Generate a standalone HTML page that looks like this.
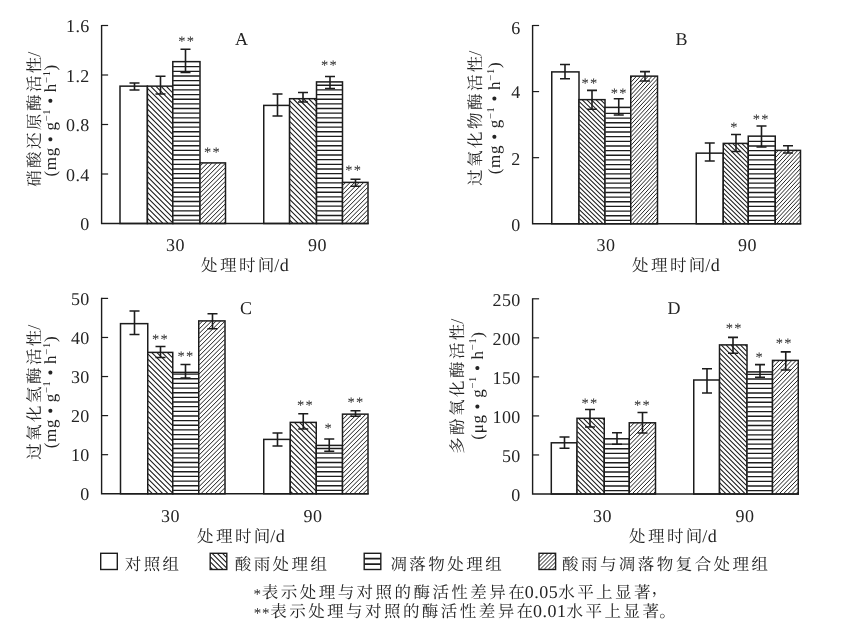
<!DOCTYPE html>
<html lang="zh"><head><meta charset="utf-8"><title>酶活性</title>
<style>html,body{margin:0;padding:0;background:#fff}svg{display:block}text{font-family:'Liberation Serif', 'Noto Serif CJK SC', serif}</style></head><body>
<svg width="860" height="627" viewBox="0 0 860 627" text-rendering="geometricPrecision" font-family="'Liberation Serif', 'Noto Serif CJK SC', serif">
<rect width="860" height="627" fill="#fff"/>
<rect x="120.00" y="86.15" width="27.40" height="137.35" fill="#fff"/>
<rect x="120.00" y="86.15" width="27.40" height="137.35" fill="none" stroke="#1c1c1c" stroke-width="1.5"/>
<rect x="147.40" y="86.15" width="25.40" height="137.35" fill="#fff"/>
<path d="M147.7 218.58L152.32 223.2M147.7 213.38L157.52 223.2M147.7 208.18L162.72 223.2M147.7 202.98L167.92 223.2M147.7 197.78L172.5 222.58M147.7 192.58L172.5 217.38M147.7 187.38L172.5 212.18M147.7 182.18L172.5 206.98M147.7 176.98L172.5 201.78M147.7 171.78L172.5 196.58M147.7 166.58L172.5 191.38M147.7 161.38L172.5 186.18M147.7 156.18L172.5 180.98M147.7 150.98L172.5 175.78M147.7 145.78L172.5 170.58M147.7 140.58L172.5 165.38M147.7 135.38L172.5 160.18M147.7 130.18L172.5 154.98M147.7 124.98L172.5 149.78M147.7 119.78L172.5 144.58M147.7 114.58L172.5 139.38M147.7 109.38L172.5 134.18M147.7 104.18L172.5 128.98M147.7 98.98L172.5 123.78M147.7 93.78L172.5 118.58M147.7 88.58L172.5 113.38M150.77 86.45L172.5 108.18M155.97 86.45L172.5 102.98M161.17 86.45L172.5 97.78M166.37 86.45L172.5 92.58M171.57 86.45L172.5 87.38" stroke="#1c1c1c" stroke-width="1.1" fill="none"/>
<rect x="147.40" y="86.15" width="25.40" height="137.35" fill="none" stroke="#1c1c1c" stroke-width="1.5"/>
<rect x="172.80" y="61.65" width="27.20" height="161.85" fill="#fff"/>
<path d="M173.10 220.10H199.70M173.10 215.45H199.70M173.10 210.80H199.70M173.10 206.15H199.70M173.10 201.50H199.70M173.10 196.85H199.70M173.10 192.20H199.70M173.10 187.55H199.70M173.10 182.90H199.70M173.10 178.25H199.70M173.10 173.60H199.70M173.10 168.95H199.70M173.10 164.30H199.70M173.10 159.65H199.70M173.10 155.00H199.70M173.10 150.35H199.70M173.10 145.70H199.70M173.10 141.05H199.70M173.10 136.40H199.70M173.10 131.75H199.70M173.10 127.10H199.70M173.10 122.45H199.70M173.10 117.80H199.70M173.10 113.15H199.70M173.10 108.50H199.70M173.10 103.85H199.70M173.10 99.20H199.70M173.10 94.55H199.70M173.10 89.90H199.70M173.10 85.25H199.70M173.10 80.60H199.70M173.10 75.95H199.70M173.10 71.30H199.70M173.10 66.65H199.70" stroke="#1c1c1c" stroke-width="1.35" fill="none"/>
<rect x="172.80" y="61.65" width="27.20" height="161.85" fill="none" stroke="#1c1c1c" stroke-width="1.5"/>
<rect x="200.00" y="162.90" width="25.50" height="60.60" fill="#fff"/>
<path d="M200.3 165.87L202.97 163.2M200.3 170.37L207.47 163.2M200.3 174.87L211.97 163.2M200.3 179.37L216.47 163.2M200.3 183.87L220.97 163.2M200.3 188.37L225.2 163.47M200.3 192.87L225.2 167.97M200.3 197.37L225.2 172.47M200.3 201.87L225.2 176.97M200.3 206.37L225.2 181.47M200.3 210.87L225.2 185.97M200.3 215.37L225.2 190.47M200.3 219.87L225.2 194.97M201.47 223.2L225.2 199.47M205.97 223.2L225.2 203.97M210.47 223.2L225.2 208.47M214.97 223.2L225.2 212.97M219.47 223.2L225.2 217.47M223.97 223.2L225.2 221.97" stroke="#1c1c1c" stroke-width="1.0" fill="none"/>
<rect x="200.00" y="162.90" width="25.50" height="60.60" fill="none" stroke="#1c1c1c" stroke-width="1.5"/>
<rect x="263.75" y="105.40" width="25.85" height="118.10" fill="#fff"/>
<rect x="263.75" y="105.40" width="25.85" height="118.10" fill="none" stroke="#1c1c1c" stroke-width="1.5"/>
<rect x="289.60" y="98.70" width="26.90" height="124.80" fill="#fff"/>
<path d="M289.9 220.38L292.72 223.2M289.9 215.18L297.92 223.2M289.9 209.98L303.12 223.2M289.9 204.78L308.32 223.2M289.9 199.58L313.52 223.2M289.9 194.38L316.2 220.68M289.9 189.18L316.2 215.48M289.9 183.98L316.2 210.28M289.9 178.78L316.2 205.08M289.9 173.58L316.2 199.88M289.9 168.38L316.2 194.68M289.9 163.18L316.2 189.48M289.9 157.98L316.2 184.28M289.9 152.78L316.2 179.08M289.9 147.58L316.2 173.88M289.9 142.38L316.2 168.68M289.9 137.18L316.2 163.48M289.9 131.98L316.2 158.28M289.9 126.78L316.2 153.08M289.9 121.58L316.2 147.88M289.9 116.38L316.2 142.68M289.9 111.18L316.2 137.48M289.9 105.98L316.2 132.28M289.9 100.78L316.2 127.08M293.32 99.0L316.2 121.88M298.52 99.0L316.2 116.68M303.72 99.0L316.2 111.48M308.92 99.0L316.2 106.28M314.12 99.0L316.2 101.08" stroke="#1c1c1c" stroke-width="1.1" fill="none"/>
<rect x="289.60" y="98.70" width="26.90" height="124.80" fill="none" stroke="#1c1c1c" stroke-width="1.5"/>
<rect x="316.50" y="81.90" width="26.00" height="141.60" fill="#fff"/>
<path d="M316.80 220.10H342.20M316.80 215.45H342.20M316.80 210.80H342.20M316.80 206.15H342.20M316.80 201.50H342.20M316.80 196.85H342.20M316.80 192.20H342.20M316.80 187.55H342.20M316.80 182.90H342.20M316.80 178.25H342.20M316.80 173.60H342.20M316.80 168.95H342.20M316.80 164.30H342.20M316.80 159.65H342.20M316.80 155.00H342.20M316.80 150.35H342.20M316.80 145.70H342.20M316.80 141.05H342.20M316.80 136.40H342.20M316.80 131.75H342.20M316.80 127.10H342.20M316.80 122.45H342.20M316.80 117.80H342.20M316.80 113.15H342.20M316.80 108.50H342.20M316.80 103.85H342.20M316.80 99.20H342.20M316.80 94.55H342.20M316.80 89.90H342.20M316.80 85.25H342.20" stroke="#1c1c1c" stroke-width="1.35" fill="none"/>
<rect x="316.50" y="81.90" width="26.00" height="141.60" fill="none" stroke="#1c1c1c" stroke-width="1.5"/>
<rect x="342.50" y="182.40" width="25.50" height="41.10" fill="#fff"/>
<path d="M342.8 185.37L345.47 182.7M342.8 189.87L349.97 182.7M342.8 194.37L354.47 182.7M342.8 198.87L358.97 182.7M342.8 203.37L363.47 182.7M342.8 207.87L367.7 182.97M342.8 212.37L367.7 187.47M342.8 216.87L367.7 191.97M342.8 221.37L367.7 196.47M345.47 223.2L367.7 200.97M349.97 223.2L367.7 205.47M354.47 223.2L367.7 209.97M358.97 223.2L367.7 214.47M363.47 223.2L367.7 218.97" stroke="#1c1c1c" stroke-width="1.0" fill="none"/>
<rect x="342.50" y="182.40" width="25.50" height="41.10" fill="none" stroke="#1c1c1c" stroke-width="1.5"/>
<path d="M101.6 24.9V223.5H368.7" stroke="#1c1c1c" stroke-width="1.4" fill="none"/>
<path d="M101.6 25.50h6.5" stroke="#1c1c1c" stroke-width="1.2"/>
<text x="89.80" y="32.00" text-anchor="end" font-size="18" letter-spacing="0.45" fill="#242424" >1.6</text>
<path d="M101.6 75.00h6.5" stroke="#1c1c1c" stroke-width="1.2"/>
<text x="89.80" y="81.50" text-anchor="end" font-size="18" letter-spacing="0.45" fill="#242424" >1.2</text>
<path d="M101.6 124.50h6.5" stroke="#1c1c1c" stroke-width="1.2"/>
<text x="89.80" y="131.00" text-anchor="end" font-size="18" letter-spacing="0.45" fill="#242424" >0.8</text>
<path d="M101.6 174.00h6.5" stroke="#1c1c1c" stroke-width="1.2"/>
<text x="89.80" y="180.50" text-anchor="end" font-size="18" letter-spacing="0.45" fill="#242424" >0.4</text>
<text x="89.80" y="230.00" text-anchor="end" font-size="18" letter-spacing="0.45" fill="#242424" >0</text>
<path d="M134.50 83.00V90.00M129.50 83.00h10M129.50 90.00h10" stroke="#1c1c1c" stroke-width="1.6" fill="none"/>
<path d="M160.50 76.25V94.00M155.50 76.25h10M155.50 94.00h10" stroke="#1c1c1c" stroke-width="1.6" fill="none"/>
<path d="M185.50 49.20V72.40M180.50 49.20h10M180.50 72.40h10" stroke="#1c1c1c" stroke-width="1.6" fill="none"/>
<path d="M277.50 94.00V116.00M272.50 94.00h10M272.50 116.00h10" stroke="#1c1c1c" stroke-width="1.6" fill="none"/>
<path d="M303.00 92.50V102.00M298.00 92.50h10M298.00 102.00h10" stroke="#1c1c1c" stroke-width="1.6" fill="none"/>
<path d="M330.00 76.50V88.50M325.00 76.50h10M325.00 88.50h10" stroke="#1c1c1c" stroke-width="1.6" fill="none"/>
<path d="M355.50 179.25V186.25M350.50 179.25h10M350.50 186.25h10" stroke="#1c1c1c" stroke-width="1.6" fill="none"/>
<text x="186.75" y="46.10" text-anchor="middle" font-size="14.5" letter-spacing="1.2" fill="#242424">**</text>
<text x="212.50" y="157.10" text-anchor="middle" font-size="14.5" letter-spacing="1.2" fill="#242424">**</text>
<text x="329.50" y="69.60" text-anchor="middle" font-size="14.5" letter-spacing="1.2" fill="#242424">**</text>
<text x="353.75" y="175.35" text-anchor="middle" font-size="14.5" letter-spacing="1.2" fill="#242424">**</text>
<text x="235.00" y="45.00" text-anchor="start" font-size="18" letter-spacing="0" fill="#242424" >A</text>
<text x="175.50" y="251.20" text-anchor="middle" font-size="18" letter-spacing="0.5" fill="#242424" >30</text>
<text x="317.50" y="251.20" text-anchor="middle" font-size="18" letter-spacing="0.5" fill="#242424" >90</text>
<text x="201.00" y="270.50" text-anchor="start" fill="#242424" ><tspan font-size="16.5" letter-spacing="2.45">处理时</tspan><tspan font-size="16.5" letter-spacing="0">间</tspan><tspan font-size="18" letter-spacing="0.5">/d</tspan></text>
<text transform="translate(40.30 119.00) rotate(-90)" text-anchor="middle" fill="#242424"><tspan font-size="16.5" letter-spacing="2.45">硝酸还原酶活</tspan><tspan font-size="16.5" letter-spacing="0">性</tspan><tspan font-size="18" letter-spacing="0.5">/</tspan></text>
<text transform="translate(56.30 120.30) rotate(-90)" text-anchor="middle" font-size="17" letter-spacing="0.7" fill="#242424">(mg • g<tspan font-size="10.5" dy="-6.5">−1</tspan><tspan dy="6.5"> • h</tspan><tspan font-size="10.5" dy="-6.5">−1</tspan><tspan dy="6.5">)</tspan></text>
<rect x="551.75" y="71.90" width="27.25" height="151.85" fill="#fff"/>
<rect x="551.75" y="71.90" width="27.25" height="151.85" fill="none" stroke="#1c1c1c" stroke-width="1.5"/>
<rect x="579.00" y="99.65" width="26.00" height="124.10" fill="#fff"/>
<path d="M579.3 223.04L579.72 223.45M579.3 218.54L584.32 223.45M579.3 214.04L588.92 223.45M579.3 209.54L593.52 223.45M579.3 205.04L598.12 223.45M579.3 200.54L602.72 223.45M579.3 196.04L604.7 220.89M579.3 191.54L604.7 216.39M579.3 187.04L604.7 211.89M579.3 182.54L604.7 207.39M579.3 178.04L604.7 202.89M579.3 173.54L604.7 198.39M579.3 169.04L604.7 193.89M579.3 164.54L604.7 189.39M579.3 160.04L604.7 184.89M579.3 155.54L604.7 180.39M579.3 151.04L604.7 175.89M579.3 146.54L604.7 171.39M579.3 142.04L604.7 166.89M579.3 137.54L604.7 162.39M579.3 133.04L604.7 157.89M579.3 128.54L604.7 153.39M579.3 124.04L604.7 148.89M579.3 119.54L604.7 144.39M579.3 115.04L604.7 139.89M579.3 110.54L604.7 135.39M579.3 106.04L604.7 130.89M579.3 101.54L604.7 126.39M582.27 99.95L604.7 121.89M586.87 99.95L604.7 117.39M591.47 99.95L604.7 112.89M596.07 99.95L604.7 108.39M600.67 99.95L604.7 103.89" stroke="#1c1c1c" stroke-width="1.05" fill="none"/>
<rect x="579.00" y="99.65" width="26.00" height="124.10" fill="none" stroke="#1c1c1c" stroke-width="1.5"/>
<rect x="605.00" y="107.40" width="25.75" height="116.35" fill="#fff"/>
<path d="M605.30 220.35H630.45M605.30 215.70H630.45M605.30 211.05H630.45M605.30 206.40H630.45M605.30 201.75H630.45M605.30 197.10H630.45M605.30 192.45H630.45M605.30 187.80H630.45M605.30 183.15H630.45M605.30 178.50H630.45M605.30 173.85H630.45M605.30 169.20H630.45M605.30 164.55H630.45M605.30 159.90H630.45M605.30 155.25H630.45M605.30 150.60H630.45M605.30 145.95H630.45M605.30 141.30H630.45M605.30 136.65H630.45M605.30 132.00H630.45M605.30 127.35H630.45M605.30 122.70H630.45M605.30 118.05H630.45M605.30 113.40H630.45" stroke="#1c1c1c" stroke-width="1.35" fill="none"/>
<rect x="605.00" y="107.40" width="25.75" height="116.35" fill="none" stroke="#1c1c1c" stroke-width="1.5"/>
<rect x="630.75" y="76.15" width="26.75" height="147.60" fill="#fff"/>
<path d="M631.05 77.96L632.45 76.45M631.05 82.16L636.35 76.45M631.05 86.36L640.25 76.45M631.05 90.56L644.15 76.45M631.05 94.76L648.05 76.45M631.05 98.96L651.95 76.45M631.05 103.16L655.85 76.45M631.05 107.36L657.2 79.2M631.05 111.56L657.2 83.4M631.05 115.76L657.2 87.6M631.05 119.96L657.2 91.8M631.05 124.16L657.2 96.0M631.05 128.36L657.2 100.2M631.05 132.56L657.2 104.4M631.05 136.76L657.2 108.6M631.05 140.96L657.2 112.8M631.05 145.16L657.2 117.0M631.05 149.36L657.2 121.2M631.05 153.56L657.2 125.4M631.05 157.76L657.2 129.6M631.05 161.96L657.2 133.8M631.05 166.16L657.2 138.0M631.05 170.36L657.2 142.2M631.05 174.56L657.2 146.4M631.05 178.76L657.2 150.6M631.05 182.96L657.2 154.8M631.05 187.16L657.2 159.0M631.05 191.36L657.2 163.2M631.05 195.56L657.2 167.4M631.05 199.76L657.2 171.6M631.05 203.96L657.2 175.8M631.05 208.16L657.2 180.0M631.05 212.36L657.2 184.2M631.05 216.56L657.2 188.4M631.05 220.76L657.2 192.6M632.45 223.45L657.2 196.8M636.35 223.45L657.2 201.0M640.25 223.45L657.2 205.2M644.15 223.45L657.2 209.4M648.05 223.45L657.2 213.6M651.95 223.45L657.2 217.8M655.85 223.45L657.2 222.0" stroke="#1c1c1c" stroke-width="0.95" fill="none"/>
<rect x="630.75" y="76.15" width="26.75" height="147.60" fill="none" stroke="#1c1c1c" stroke-width="1.5"/>
<rect x="696.25" y="153.15" width="27.00" height="70.60" fill="#fff"/>
<rect x="696.25" y="153.15" width="27.00" height="70.60" fill="none" stroke="#1c1c1c" stroke-width="1.5"/>
<rect x="723.25" y="143.40" width="25.00" height="80.35" fill="#fff"/>
<path d="M723.55 220.16L726.92 223.45M723.55 215.66L731.52 223.45M723.55 211.16L736.12 223.45M723.55 206.66L740.72 223.45M723.55 202.16L745.32 223.45M723.55 197.66L747.95 221.53M723.55 193.16L747.95 217.03M723.55 188.66L747.95 212.53M723.55 184.16L747.95 208.03M723.55 179.66L747.95 203.53M723.55 175.16L747.95 199.03M723.55 170.66L747.95 194.53M723.55 166.16L747.95 190.03M723.55 161.66L747.95 185.53M723.55 157.16L747.95 181.03M723.55 152.66L747.95 176.53M723.55 148.16L747.95 172.03M723.6 143.7L747.95 167.53M728.2 143.7L747.95 163.03M732.8 143.7L747.95 158.53M737.4 143.7L747.95 154.03M742.0 143.7L747.95 149.53M746.6 143.7L747.95 145.03" stroke="#1c1c1c" stroke-width="1.05" fill="none"/>
<rect x="723.25" y="143.40" width="25.00" height="80.35" fill="none" stroke="#1c1c1c" stroke-width="1.5"/>
<rect x="748.25" y="136.15" width="27.00" height="87.60" fill="#fff"/>
<path d="M748.55 220.35H774.95M748.55 215.70H774.95M748.55 211.05H774.95M748.55 206.40H774.95M748.55 201.75H774.95M748.55 197.10H774.95M748.55 192.45H774.95M748.55 187.80H774.95M748.55 183.15H774.95M748.55 178.50H774.95M748.55 173.85H774.95M748.55 169.20H774.95M748.55 164.55H774.95M748.55 159.90H774.95M748.55 155.25H774.95M748.55 150.60H774.95M748.55 145.95H774.95M748.55 141.30H774.95" stroke="#1c1c1c" stroke-width="1.35" fill="none"/>
<rect x="748.25" y="136.15" width="27.00" height="87.60" fill="none" stroke="#1c1c1c" stroke-width="1.5"/>
<rect x="775.25" y="150.40" width="25.25" height="73.35" fill="#fff"/>
<path d="M775.55 153.35L778.01 150.7M775.55 157.55L781.91 150.7M775.55 161.75L785.81 150.7M775.55 165.95L789.71 150.7M775.55 170.15L793.61 150.7M775.55 174.35L797.51 150.7M775.55 178.55L800.2 152.0M775.55 182.75L800.2 156.2M775.55 186.95L800.2 160.4M775.55 191.15L800.2 164.6M775.55 195.35L800.2 168.8M775.55 199.55L800.2 173.0M775.55 203.75L800.2 177.2M775.55 207.95L800.2 181.4M775.55 212.15L800.2 185.6M775.55 216.35L800.2 189.8M775.55 220.55L800.2 194.0M776.75 223.45L800.2 198.2M780.65 223.45L800.2 202.4M784.55 223.45L800.2 206.6M788.45 223.45L800.2 210.8M792.35 223.45L800.2 215.0M796.25 223.45L800.2 219.2M800.15 223.45L800.2 223.4" stroke="#1c1c1c" stroke-width="0.95" fill="none"/>
<rect x="775.25" y="150.40" width="25.25" height="73.35" fill="none" stroke="#1c1c1c" stroke-width="1.5"/>
<path d="M532.6 24.9V223.75H801.2" stroke="#1c1c1c" stroke-width="1.4" fill="none"/>
<path d="M532.6 25.50h6.5" stroke="#1c1c1c" stroke-width="1.2"/>
<text x="520.80" y="34.00" text-anchor="end" font-size="18" letter-spacing="0.45" fill="#242424" >6</text>
<path d="M532.6 91.58h6.5" stroke="#1c1c1c" stroke-width="1.2"/>
<text x="520.80" y="98.48" text-anchor="end" font-size="18" letter-spacing="0.45" fill="#242424" >4</text>
<path d="M532.6 157.67h6.5" stroke="#1c1c1c" stroke-width="1.2"/>
<text x="520.80" y="164.57" text-anchor="end" font-size="18" letter-spacing="0.45" fill="#242424" >2</text>
<text x="520.80" y="230.65" text-anchor="end" font-size="18" letter-spacing="0.45" fill="#242424" >0</text>
<path d="M565.00 64.50V78.75M560.00 64.50h10M560.00 78.75h10" stroke="#1c1c1c" stroke-width="1.6" fill="none"/>
<path d="M592.00 90.40V109.30M587.00 90.40h10M587.00 109.30h10" stroke="#1c1c1c" stroke-width="1.6" fill="none"/>
<path d="M618.75 98.80V115.00M613.75 98.80h10M613.75 115.00h10" stroke="#1c1c1c" stroke-width="1.6" fill="none"/>
<path d="M645.00 71.60V81.00M640.00 71.60h10M640.00 81.00h10" stroke="#1c1c1c" stroke-width="1.6" fill="none"/>
<path d="M709.75 143.00V161.00M704.75 143.00h10M704.75 161.00h10" stroke="#1c1c1c" stroke-width="1.6" fill="none"/>
<path d="M736.00 134.50V151.50M731.00 134.50h10M731.00 151.50h10" stroke="#1c1c1c" stroke-width="1.6" fill="none"/>
<path d="M761.50 126.00V147.00M756.50 126.00h10M756.50 147.00h10" stroke="#1c1c1c" stroke-width="1.6" fill="none"/>
<path d="M788.00 145.75V153.00M783.00 145.75h10M783.00 153.00h10" stroke="#1c1c1c" stroke-width="1.6" fill="none"/>
<text x="590.00" y="88.10" text-anchor="middle" font-size="14.5" letter-spacing="1.2" fill="#242424">**</text>
<text x="619.25" y="97.60" text-anchor="middle" font-size="14.5" letter-spacing="1.2" fill="#242424">**</text>
<text x="734.50" y="131.60" text-anchor="middle" font-size="14.5" letter-spacing="1.2" fill="#242424">*</text>
<text x="761.25" y="124.10" text-anchor="middle" font-size="14.5" letter-spacing="1.2" fill="#242424">**</text>
<text x="675.50" y="44.50" text-anchor="start" font-size="18" letter-spacing="0" fill="#242424" >B</text>
<text x="606.00" y="251.20" text-anchor="middle" font-size="18" letter-spacing="0.5" fill="#242424" >30</text>
<text x="747.50" y="251.20" text-anchor="middle" font-size="18" letter-spacing="0.5" fill="#242424" >90</text>
<text x="632.00" y="270.50" text-anchor="start" fill="#242424" ><tspan font-size="16.5" letter-spacing="2.45">处理时</tspan><tspan font-size="16.5" letter-spacing="0">间</tspan><tspan font-size="18" letter-spacing="0.5">/d</tspan></text>
<text transform="translate(480.80 118.00) rotate(-90)" text-anchor="middle" fill="#242424"><tspan font-size="16.5" letter-spacing="2.45">过氧化物酶活</tspan><tspan font-size="16.5" letter-spacing="0">性</tspan><tspan font-size="18" letter-spacing="0.5">/</tspan></text>
<text transform="translate(500.30 118.00) rotate(-90)" text-anchor="middle" font-size="17" letter-spacing="0.7" fill="#242424">(mg • g<tspan font-size="10.5" dy="-6.5">−1</tspan><tspan dy="6.5"> • h</tspan><tspan font-size="10.5" dy="-6.5">−1</tspan><tspan dy="6.5">)</tspan></text>
<rect x="120.50" y="323.65" width="27.25" height="170.10" fill="#fff"/>
<rect x="120.50" y="323.65" width="27.25" height="170.10" fill="none" stroke="#1c1c1c" stroke-width="1.5"/>
<rect x="147.75" y="352.40" width="25.00" height="141.35" fill="#fff"/>
<path d="M148.05 489.33L152.17 493.45M148.05 484.13L157.37 493.45M148.05 478.93L162.57 493.45M148.05 473.73L167.77 493.45M148.05 468.53L172.45 492.93M148.05 463.33L172.45 487.73M148.05 458.13L172.45 482.53M148.05 452.93L172.45 477.33M148.05 447.73L172.45 472.13M148.05 442.53L172.45 466.93M148.05 437.33L172.45 461.73M148.05 432.13L172.45 456.53M148.05 426.93L172.45 451.33M148.05 421.73L172.45 446.13M148.05 416.53L172.45 440.93M148.05 411.33L172.45 435.73M148.05 406.13L172.45 430.53M148.05 400.93L172.45 425.33M148.05 395.73L172.45 420.13M148.05 390.53L172.45 414.93M148.05 385.33L172.45 409.73M148.05 380.13L172.45 404.53M148.05 374.93L172.45 399.33M148.05 369.73L172.45 394.13M148.05 364.53L172.45 388.93M148.05 359.33L172.45 383.73M148.05 354.13L172.45 378.53M151.82 352.7L172.45 373.33M157.02 352.7L172.45 368.13M162.22 352.7L172.45 362.93M167.42 352.7L172.45 357.73" stroke="#1c1c1c" stroke-width="1.1" fill="none"/>
<rect x="147.75" y="352.40" width="25.00" height="141.35" fill="none" stroke="#1c1c1c" stroke-width="1.5"/>
<rect x="172.75" y="372.40" width="26.00" height="121.35" fill="#fff"/>
<path d="M173.05 490.35H198.45M173.05 485.70H198.45M173.05 481.05H198.45M173.05 476.40H198.45M173.05 471.75H198.45M173.05 467.10H198.45M173.05 462.45H198.45M173.05 457.80H198.45M173.05 453.15H198.45M173.05 448.50H198.45M173.05 443.85H198.45M173.05 439.20H198.45M173.05 434.55H198.45M173.05 429.90H198.45M173.05 425.25H198.45M173.05 420.60H198.45M173.05 415.95H198.45M173.05 411.30H198.45M173.05 406.65H198.45M173.05 402.00H198.45M173.05 397.35H198.45M173.05 392.70H198.45M173.05 388.05H198.45M173.05 383.40H198.45M173.05 378.75H198.45M173.05 374.10H198.45" stroke="#1c1c1c" stroke-width="1.35" fill="none"/>
<rect x="172.75" y="372.40" width="26.00" height="121.35" fill="none" stroke="#1c1c1c" stroke-width="1.5"/>
<rect x="198.75" y="320.90" width="26.25" height="172.85" fill="#fff"/>
<path d="M199.05 324.62L202.47 321.2M199.05 329.12L206.97 321.2M199.05 333.62L211.47 321.2M199.05 338.12L215.97 321.2M199.05 342.62L220.47 321.2M199.05 347.12L224.7 321.47M199.05 351.62L224.7 325.97M199.05 356.12L224.7 330.47M199.05 360.62L224.7 334.97M199.05 365.12L224.7 339.47M199.05 369.62L224.7 343.97M199.05 374.12L224.7 348.47M199.05 378.62L224.7 352.97M199.05 383.12L224.7 357.47M199.05 387.62L224.7 361.97M199.05 392.12L224.7 366.47M199.05 396.62L224.7 370.97M199.05 401.12L224.7 375.47M199.05 405.62L224.7 379.97M199.05 410.12L224.7 384.47M199.05 414.62L224.7 388.97M199.05 419.12L224.7 393.47M199.05 423.62L224.7 397.97M199.05 428.12L224.7 402.47M199.05 432.62L224.7 406.97M199.05 437.12L224.7 411.47M199.05 441.62L224.7 415.97M199.05 446.12L224.7 420.47M199.05 450.62L224.7 424.97M199.05 455.12L224.7 429.47M199.05 459.62L224.7 433.97M199.05 464.12L224.7 438.47M199.05 468.62L224.7 442.97M199.05 473.12L224.7 447.47M199.05 477.62L224.7 451.97M199.05 482.12L224.7 456.47M199.05 486.62L224.7 460.97M199.05 491.12L224.7 465.47M201.22 493.45L224.7 469.97M205.72 493.45L224.7 474.47M210.22 493.45L224.7 478.97M214.72 493.45L224.7 483.47M219.22 493.45L224.7 487.97M223.72 493.45L224.7 492.47" stroke="#1c1c1c" stroke-width="1.0" fill="none"/>
<rect x="198.75" y="320.90" width="26.25" height="172.85" fill="none" stroke="#1c1c1c" stroke-width="1.5"/>
<rect x="263.75" y="439.40" width="26.50" height="54.35" fill="#fff"/>
<rect x="263.75" y="439.40" width="26.50" height="54.35" fill="none" stroke="#1c1c1c" stroke-width="1.5"/>
<rect x="290.25" y="422.40" width="26.00" height="71.35" fill="#fff"/>
<path d="M290.55 491.43L292.57 493.45M290.55 486.23L297.77 493.45M290.55 481.03L302.97 493.45M290.55 475.83L308.17 493.45M290.55 470.63L313.37 493.45M290.55 465.43L315.95 490.83M290.55 460.23L315.95 485.63M290.55 455.03L315.95 480.43M290.55 449.83L315.95 475.23M290.55 444.63L315.95 470.03M290.55 439.43L315.95 464.83M290.55 434.23L315.95 459.63M290.55 429.03L315.95 454.43M290.55 423.83L315.95 449.23M294.62 422.7L315.95 444.03M299.82 422.7L315.95 438.83M305.02 422.7L315.95 433.63M310.22 422.7L315.95 428.43M315.42 422.7L315.95 423.23" stroke="#1c1c1c" stroke-width="1.1" fill="none"/>
<rect x="290.25" y="422.40" width="26.00" height="71.35" fill="none" stroke="#1c1c1c" stroke-width="1.5"/>
<rect x="316.25" y="445.40" width="26.25" height="48.35" fill="#fff"/>
<path d="M316.55 490.35H342.20M316.55 485.70H342.20M316.55 481.05H342.20M316.55 476.40H342.20M316.55 471.75H342.20M316.55 467.10H342.20M316.55 462.45H342.20M316.55 457.80H342.20M316.55 453.15H342.20M316.55 448.50H342.20" stroke="#1c1c1c" stroke-width="1.35" fill="none"/>
<rect x="316.25" y="445.40" width="26.25" height="48.35" fill="none" stroke="#1c1c1c" stroke-width="1.5"/>
<rect x="342.50" y="414.15" width="25.50" height="79.60" fill="#fff"/>
<path d="M342.8 414.87L343.22 414.45M342.8 419.37L347.72 414.45M342.8 423.87L352.22 414.45M342.8 428.37L356.72 414.45M342.8 432.87L361.22 414.45M342.8 437.37L365.72 414.45M342.8 441.87L367.7 416.97M342.8 446.37L367.7 421.47M342.8 450.87L367.7 425.97M342.8 455.37L367.7 430.47M342.8 459.87L367.7 434.97M342.8 464.37L367.7 439.47M342.8 468.87L367.7 443.97M342.8 473.37L367.7 448.47M342.8 477.87L367.7 452.97M342.8 482.37L367.7 457.47M342.8 486.87L367.7 461.97M342.8 491.37L367.7 466.47M345.22 493.45L367.7 470.97M349.72 493.45L367.7 475.47M354.22 493.45L367.7 479.97M358.72 493.45L367.7 484.47M363.22 493.45L367.7 488.97" stroke="#1c1c1c" stroke-width="1.0" fill="none"/>
<rect x="342.50" y="414.15" width="25.50" height="79.60" fill="none" stroke="#1c1c1c" stroke-width="1.5"/>
<path d="M101.6 297.79999999999995V493.75H368.7" stroke="#1c1c1c" stroke-width="1.4" fill="none"/>
<path d="M101.6 298.40h6.5" stroke="#1c1c1c" stroke-width="1.2"/>
<text x="89.80" y="304.80" text-anchor="end" font-size="18" letter-spacing="0.45" fill="#242424" >50</text>
<path d="M101.6 337.47h6.5" stroke="#1c1c1c" stroke-width="1.2"/>
<text x="89.80" y="343.87" text-anchor="end" font-size="18" letter-spacing="0.45" fill="#242424" >40</text>
<path d="M101.6 376.54h6.5" stroke="#1c1c1c" stroke-width="1.2"/>
<text x="89.80" y="382.94" text-anchor="end" font-size="18" letter-spacing="0.45" fill="#242424" >30</text>
<path d="M101.6 415.61h6.5" stroke="#1c1c1c" stroke-width="1.2"/>
<text x="89.80" y="422.01" text-anchor="end" font-size="18" letter-spacing="0.45" fill="#242424" >20</text>
<path d="M101.6 454.68h6.5" stroke="#1c1c1c" stroke-width="1.2"/>
<text x="89.80" y="461.08" text-anchor="end" font-size="18" letter-spacing="0.45" fill="#242424" >10</text>
<text x="89.80" y="500.15" text-anchor="end" font-size="18" letter-spacing="0.45" fill="#242424" >0</text>
<path d="M134.50 311.00V334.50M129.50 311.00h10M129.50 334.50h10" stroke="#1c1c1c" stroke-width="1.6" fill="none"/>
<path d="M160.50 346.50V357.50M155.50 346.50h10M155.50 357.50h10" stroke="#1c1c1c" stroke-width="1.6" fill="none"/>
<path d="M185.50 364.50V378.00M180.50 364.50h10M180.50 378.00h10" stroke="#1c1c1c" stroke-width="1.6" fill="none"/>
<path d="M212.50 313.75V328.75M207.50 313.75h10M207.50 328.75h10" stroke="#1c1c1c" stroke-width="1.6" fill="none"/>
<path d="M277.50 433.00V446.00M272.50 433.00h10M272.50 446.00h10" stroke="#1c1c1c" stroke-width="1.6" fill="none"/>
<path d="M303.25 413.75V429.00M298.25 413.75h10M298.25 429.00h10" stroke="#1c1c1c" stroke-width="1.6" fill="none"/>
<path d="M329.25 439.00V451.25M324.25 439.00h10M324.25 451.25h10" stroke="#1c1c1c" stroke-width="1.6" fill="none"/>
<path d="M355.50 410.75V416.25M350.50 410.75h10M350.50 416.25h10" stroke="#1c1c1c" stroke-width="1.6" fill="none"/>
<text x="160.50" y="343.60" text-anchor="middle" font-size="14.5" letter-spacing="1.2" fill="#242424">**</text>
<text x="186.00" y="360.60" text-anchor="middle" font-size="14.5" letter-spacing="1.2" fill="#242424">**</text>
<text x="305.50" y="409.60" text-anchor="middle" font-size="14.5" letter-spacing="1.2" fill="#242424">**</text>
<text x="328.75" y="432.85" text-anchor="middle" font-size="14.5" letter-spacing="1.2" fill="#242424">*</text>
<text x="356.00" y="406.85" text-anchor="middle" font-size="14.5" letter-spacing="1.2" fill="#242424">**</text>
<text x="240.00" y="314.25" text-anchor="start" font-size="18" letter-spacing="0" fill="#242424" >C</text>
<text x="170.50" y="522.20" text-anchor="middle" font-size="18" letter-spacing="0.5" fill="#242424" >30</text>
<text x="313.00" y="522.20" text-anchor="middle" font-size="18" letter-spacing="0.5" fill="#242424" >90</text>
<text x="197.00" y="542.00" text-anchor="start" fill="#242424" ><tspan font-size="16.5" letter-spacing="2.45">处理时</tspan><tspan font-size="16.5" letter-spacing="0">间</tspan><tspan font-size="18" letter-spacing="0.5">/d</tspan></text>
<text transform="translate(40.30 392.00) rotate(-90)" text-anchor="middle" fill="#242424"><tspan font-size="16.5" letter-spacing="2.45">过氧化氢酶活</tspan><tspan font-size="16.5" letter-spacing="0">性</tspan><tspan font-size="18" letter-spacing="0.5">/</tspan></text>
<text transform="translate(56.30 392.00) rotate(-90)" text-anchor="middle" font-size="17" letter-spacing="0.7" fill="#242424">(mg • g<tspan font-size="10.5" dy="-6.5">−1</tspan><tspan dy="6.5"> • h</tspan><tspan font-size="10.5" dy="-6.5">−1</tspan><tspan dy="6.5">)</tspan></text>
<rect x="551.30" y="442.80" width="25.70" height="51.20" fill="#fff"/>
<rect x="551.30" y="442.80" width="25.70" height="51.20" fill="none" stroke="#1c1c1c" stroke-width="1.5"/>
<rect x="577.00" y="418.30" width="27.25" height="75.70" fill="#fff"/>
<path d="M577.3 489.12L581.88 493.7M577.3 484.32L586.68 493.7M577.3 479.52L591.48 493.7M577.3 474.72L596.28 493.7M577.3 469.92L601.08 493.7M577.3 465.12L603.95 491.77M577.3 460.32L603.95 486.97M577.3 455.52L603.95 482.17M577.3 450.72L603.95 477.37M577.3 445.92L603.95 472.57M577.3 441.12L603.95 467.77M577.3 436.32L603.95 462.97M577.3 431.52L603.95 458.17M577.3 426.72L603.95 453.37M577.3 421.92L603.95 448.57M578.78 418.6L603.95 443.77M583.58 418.6L603.95 438.97M588.38 418.6L603.95 434.17M593.18 418.6L603.95 429.37M597.98 418.6L603.95 424.57M602.78 418.6L603.95 419.77" stroke="#1c1c1c" stroke-width="1.08" fill="none"/>
<rect x="577.00" y="418.30" width="27.25" height="75.70" fill="none" stroke="#1c1c1c" stroke-width="1.5"/>
<rect x="604.25" y="438.80" width="25.00" height="55.20" fill="#fff"/>
<path d="M604.55 490.60H628.95M604.55 485.95H628.95M604.55 481.30H628.95M604.55 476.65H628.95M604.55 472.00H628.95M604.55 467.35H628.95M604.55 462.70H628.95M604.55 458.05H628.95M604.55 453.40H628.95M604.55 448.75H628.95M604.55 444.10H628.95" stroke="#1c1c1c" stroke-width="1.35" fill="none"/>
<rect x="604.25" y="438.80" width="25.00" height="55.20" fill="none" stroke="#1c1c1c" stroke-width="1.5"/>
<rect x="629.25" y="422.80" width="26.25" height="71.20" fill="#fff"/>
<path d="M629.55 423.45L629.89 423.1M629.55 427.75L634.09 423.1M629.55 432.05L638.29 423.1M629.55 436.35L642.49 423.1M629.55 440.65L646.69 423.1M629.55 444.95L650.89 423.1M629.55 449.25L655.09 423.1M629.55 453.55L655.2 427.29M629.55 457.85L655.2 431.59M629.55 462.15L655.2 435.89M629.55 466.45L655.2 440.19M629.55 470.75L655.2 444.49M629.55 475.05L655.2 448.79M629.55 479.35L655.2 453.09M629.55 483.65L655.2 457.39M629.55 487.95L655.2 461.69M629.55 492.25L655.2 465.99M632.34 493.7L655.2 470.29M636.54 493.7L655.2 474.59M640.74 493.7L655.2 478.89M644.94 493.7L655.2 483.19M649.14 493.7L655.2 487.49M653.34 493.7L655.2 491.79" stroke="#1c1c1c" stroke-width="0.98" fill="none"/>
<rect x="629.25" y="422.80" width="26.25" height="71.20" fill="none" stroke="#1c1c1c" stroke-width="1.5"/>
<rect x="693.75" y="380.00" width="25.75" height="114.00" fill="#fff"/>
<rect x="693.75" y="380.00" width="25.75" height="114.00" fill="none" stroke="#1c1c1c" stroke-width="1.5"/>
<rect x="719.50" y="344.90" width="27.50" height="149.10" fill="#fff"/>
<path d="M719.8 492.42L721.08 493.7M719.8 487.62L725.88 493.7M719.8 482.82L730.68 493.7M719.8 478.02L735.48 493.7M719.8 473.22L740.28 493.7M719.8 468.42L745.08 493.7M719.8 463.62L746.7 490.52M719.8 458.82L746.7 485.72M719.8 454.02L746.7 480.92M719.8 449.22L746.7 476.12M719.8 444.42L746.7 471.32M719.8 439.62L746.7 466.52M719.8 434.82L746.7 461.72M719.8 430.02L746.7 456.92M719.8 425.22L746.7 452.12M719.8 420.42L746.7 447.32M719.8 415.62L746.7 442.52M719.8 410.82L746.7 437.72M719.8 406.02L746.7 432.92M719.8 401.22L746.7 428.12M719.8 396.42L746.7 423.32M719.8 391.62L746.7 418.52M719.8 386.82L746.7 413.72M719.8 382.02L746.7 408.92M719.8 377.22L746.7 404.12M719.8 372.42L746.7 399.32M719.8 367.62L746.7 394.52M719.8 362.82L746.7 389.72M719.8 358.02L746.7 384.92M719.8 353.22L746.7 380.12M719.8 348.42L746.7 375.32M721.38 345.2L746.7 370.52M726.18 345.2L746.7 365.72M730.98 345.2L746.7 360.92M735.78 345.2L746.7 356.12M740.58 345.2L746.7 351.32M745.38 345.2L746.7 346.52" stroke="#1c1c1c" stroke-width="1.08" fill="none"/>
<rect x="719.50" y="344.90" width="27.50" height="149.10" fill="none" stroke="#1c1c1c" stroke-width="1.5"/>
<rect x="747.00" y="371.90" width="25.50" height="122.10" fill="#fff"/>
<path d="M747.30 490.60H772.20M747.30 485.95H772.20M747.30 481.30H772.20M747.30 476.65H772.20M747.30 472.00H772.20M747.30 467.35H772.20M747.30 462.70H772.20M747.30 458.05H772.20M747.30 453.40H772.20M747.30 448.75H772.20M747.30 444.10H772.20M747.30 439.45H772.20M747.30 434.80H772.20M747.30 430.15H772.20M747.30 425.50H772.20M747.30 420.85H772.20M747.30 416.20H772.20M747.30 411.55H772.20M747.30 406.90H772.20M747.30 402.25H772.20M747.30 397.60H772.20M747.30 392.95H772.20M747.30 388.30H772.20M747.30 383.65H772.20M747.30 379.00H772.20M747.30 374.35H772.20" stroke="#1c1c1c" stroke-width="1.35" fill="none"/>
<rect x="747.00" y="371.90" width="25.50" height="122.10" fill="none" stroke="#1c1c1c" stroke-width="1.5"/>
<rect x="772.50" y="360.40" width="25.75" height="133.60" fill="#fff"/>
<path d="M772.8 362.79L774.84 360.7M772.8 367.09L779.04 360.7M772.8 371.39L783.24 360.7M772.8 375.69L787.44 360.7M772.8 379.99L791.64 360.7M772.8 384.29L795.84 360.7M772.8 388.59L797.95 362.84M772.8 392.89L797.95 367.14M772.8 397.19L797.95 371.44M772.8 401.49L797.95 375.74M772.8 405.79L797.95 380.04M772.8 410.09L797.95 384.34M772.8 414.39L797.95 388.64M772.8 418.69L797.95 392.94M772.8 422.99L797.95 397.24M772.8 427.29L797.95 401.54M772.8 431.59L797.95 405.84M772.8 435.89L797.95 410.14M772.8 440.19L797.95 414.44M772.8 444.49L797.95 418.74M772.8 448.79L797.95 423.04M772.8 453.09L797.95 427.34M772.8 457.39L797.95 431.64M772.8 461.69L797.95 435.94M772.8 465.99L797.95 440.24M772.8 470.29L797.95 444.54M772.8 474.59L797.95 448.84M772.8 478.89L797.95 453.14M772.8 483.19L797.95 457.44M772.8 487.49L797.95 461.74M772.8 491.79L797.95 466.04M775.14 493.7L797.95 470.34M779.34 493.7L797.95 474.64M783.54 493.7L797.95 478.94M787.74 493.7L797.95 483.24M791.94 493.7L797.95 487.54M796.14 493.7L797.95 491.84" stroke="#1c1c1c" stroke-width="0.98" fill="none"/>
<rect x="772.50" y="360.40" width="25.75" height="133.60" fill="none" stroke="#1c1c1c" stroke-width="1.5"/>
<path d="M532.6 298.2V494H798.95" stroke="#1c1c1c" stroke-width="1.4" fill="none"/>
<path d="M532.6 298.80h6.5" stroke="#1c1c1c" stroke-width="1.2"/>
<text x="520.80" y="305.80" text-anchor="end" font-size="18" letter-spacing="0.45" fill="#242424" >250</text>
<path d="M532.6 337.84h6.5" stroke="#1c1c1c" stroke-width="1.2"/>
<text x="520.80" y="344.84" text-anchor="end" font-size="18" letter-spacing="0.45" fill="#242424" >200</text>
<path d="M532.6 376.88h6.5" stroke="#1c1c1c" stroke-width="1.2"/>
<text x="520.80" y="383.88" text-anchor="end" font-size="18" letter-spacing="0.45" fill="#242424" >150</text>
<path d="M532.6 415.92h6.5" stroke="#1c1c1c" stroke-width="1.2"/>
<text x="520.80" y="422.92" text-anchor="end" font-size="18" letter-spacing="0.45" fill="#242424" >100</text>
<path d="M532.6 454.96h6.5" stroke="#1c1c1c" stroke-width="1.2"/>
<text x="520.80" y="461.96" text-anchor="end" font-size="18" letter-spacing="0.45" fill="#242424" >50</text>
<text x="520.80" y="501.00" text-anchor="end" font-size="18" letter-spacing="0.45" fill="#242424" >0</text>
<path d="M564.50 437.00V448.25M559.50 437.00h10M559.50 448.25h10" stroke="#1c1c1c" stroke-width="1.6" fill="none"/>
<path d="M590.00 409.50V427.00M585.00 409.50h10M585.00 427.00h10" stroke="#1c1c1c" stroke-width="1.6" fill="none"/>
<path d="M617.00 432.75V444.25M612.00 432.75h10M612.00 444.25h10" stroke="#1c1c1c" stroke-width="1.6" fill="none"/>
<path d="M642.50 412.50V433.00M637.50 412.50h10M637.50 433.00h10" stroke="#1c1c1c" stroke-width="1.6" fill="none"/>
<path d="M707.00 368.70V393.00M702.00 368.70h10M702.00 393.00h10" stroke="#1c1c1c" stroke-width="1.6" fill="none"/>
<path d="M733.00 337.40V353.20M728.00 337.40h10M728.00 353.20h10" stroke="#1c1c1c" stroke-width="1.6" fill="none"/>
<path d="M760.00 364.60V377.20M755.00 364.60h10M755.00 377.20h10" stroke="#1c1c1c" stroke-width="1.6" fill="none"/>
<path d="M785.75 351.90V370.00M780.75 351.90h10M780.75 370.00h10" stroke="#1c1c1c" stroke-width="1.6" fill="none"/>
<text x="590.00" y="407.85" text-anchor="middle" font-size="14.5" letter-spacing="1.2" fill="#242424">**</text>
<text x="642.50" y="410.35" text-anchor="middle" font-size="14.5" letter-spacing="1.2" fill="#242424">**</text>
<text x="734.25" y="333.35" text-anchor="middle" font-size="14.5" letter-spacing="1.2" fill="#242424">**</text>
<text x="759.75" y="361.60" text-anchor="middle" font-size="14.5" letter-spacing="1.2" fill="#242424">*</text>
<text x="784.25" y="347.85" text-anchor="middle" font-size="14.5" letter-spacing="1.2" fill="#242424">**</text>
<text x="667.50" y="314.25" text-anchor="start" font-size="18" letter-spacing="0" fill="#242424" >D</text>
<text x="602.50" y="522.20" text-anchor="middle" font-size="18" letter-spacing="0.5" fill="#242424" >30</text>
<text x="745.00" y="522.20" text-anchor="middle" font-size="18" letter-spacing="0.5" fill="#242424" >90</text>
<text x="629.00" y="542.00" text-anchor="start" fill="#242424" ><tspan font-size="16.5" letter-spacing="2.45">处理时</tspan><tspan font-size="16.5" letter-spacing="0">间</tspan><tspan font-size="18" letter-spacing="0.5">/d</tspan></text>
<text transform="translate(462.50 386.00) rotate(-90)" text-anchor="middle" fill="#242424"><tspan font-size="16.5" letter-spacing="2.45">多酚氧化酶活</tspan><tspan font-size="16.5" letter-spacing="0">性</tspan><tspan font-size="18" letter-spacing="0.5">/</tspan></text>
<text transform="translate(482.70 385.50) rotate(-90)" text-anchor="middle" font-size="17" letter-spacing="0.7" fill="#242424">(μg • g<tspan font-size="10.5" dy="-6.5">−1</tspan><tspan dy="6.5"> • h</tspan><tspan font-size="10.5" dy="-6.5">−1</tspan><tspan dy="6.5">)</tspan></text>
<rect x="100.7" y="553.3" width="16.6" height="16.2" fill="#fff"/>
<rect x="100.7" y="553.3" width="16.6" height="16.2" fill="none" stroke="#1c1c1c" stroke-width="1.4"/>
<text x="124.70" y="570.00" text-anchor="start" fill="#242424" ><tspan font-size="16.5" letter-spacing="2.45">对照</tspan><tspan font-size="16.5" letter-spacing="0">组</tspan></text>
<rect x="210.2" y="553.3" width="16.6" height="16.2" fill="#fff"/>
<path d="M210.5 567.38L212.32 569.2M210.5 562.18L217.52 569.2M210.5 556.98L222.72 569.2M212.32 553.6L226.5 567.78M217.52 553.6L226.5 562.58M222.72 553.6L226.5 557.38" stroke="#1c1c1c" stroke-width="1.1" fill="none"/>
<rect x="210.2" y="553.3" width="16.6" height="16.2" fill="none" stroke="#1c1c1c" stroke-width="1.4"/>
<text x="234.70" y="570.00" text-anchor="start" fill="#242424" ><tspan font-size="16.5" letter-spacing="2.45">酸雨处理</tspan><tspan font-size="16.5" letter-spacing="0">组</tspan></text>
<rect x="364.2" y="553.3" width="16.6" height="16.2" fill="#fff"/>
<path d="M364.2 558.7h16.6M364.2 564.1h16.6" stroke="#1c1c1c" stroke-width="1.7"/>
<rect x="364.2" y="553.3" width="16.6" height="16.2" fill="none" stroke="#1c1c1c" stroke-width="1.4"/>
<text x="390.40" y="570.00" text-anchor="start" fill="#242424" ><tspan font-size="16.5" letter-spacing="2.45">凋落物处理</tspan><tspan font-size="16.5" letter-spacing="0">组</tspan></text>
<rect x="539.0" y="553.3" width="16.6" height="16.2" fill="#fff"/>
<path d="M539.3 554.18L539.88 553.6M539.3 558.18L543.88 553.6M539.3 562.18L547.88 553.6M539.3 566.18L551.88 553.6M540.28 569.2L555.3 554.18M544.28 569.2L555.3 558.18M548.28 569.2L555.3 562.18M552.28 569.2L555.3 566.18" stroke="#1c1c1c" stroke-width="1.0" fill="none"/>
<rect x="539.0" y="553.3" width="16.6" height="16.2" fill="none" stroke="#1c1c1c" stroke-width="1.4"/>
<text x="562.00" y="570.00" text-anchor="start" fill="#242424" ><tspan font-size="16.5" letter-spacing="2.45">酸雨与凋落物复合处理</tspan><tspan font-size="16.5" letter-spacing="0">组</tspan></text>
<text x="253.50" y="597.70" fill="#242424"><tspan font-size="15" letter-spacing="0.6" dy="1.5">*</tspan><tspan dy="-1.5" font-size="1"> </tspan><tspan font-size="16.5" letter-spacing="2.45">表示处理与对照的酶活性差异</tspan><tspan font-size="16.5" letter-spacing="0">在</tspan><tspan font-size="18" letter-spacing="0.5">0.05</tspan><tspan font-size="16.5" letter-spacing="2.45">水平上显</tspan><tspan font-size="16.5" letter-spacing="0">著</tspan><tspan font-size="16.5" dx="1.2" dy="-3.5">，</tspan></text>
<text x="253.80" y="616.90" fill="#242424"><tspan font-size="15" letter-spacing="0.6" dy="1.5">**</tspan><tspan dy="-1.5" font-size="1"> </tspan><tspan font-size="16.5" letter-spacing="2.45">表示处理与对照的酶活性差异</tspan><tspan font-size="16.5" letter-spacing="0">在</tspan><tspan font-size="18" letter-spacing="0.5">0.01</tspan><tspan font-size="16.5" letter-spacing="2.45">水平上显</tspan><tspan font-size="16.5" letter-spacing="0">著</tspan><tspan font-size="16.5" dx="0.3" dy="0">。</tspan></text>
</svg></body></html>
